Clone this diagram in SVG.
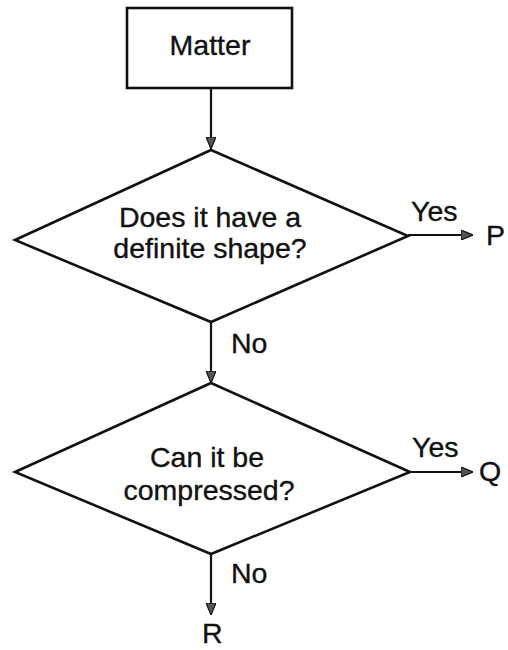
<svg xmlns="http://www.w3.org/2000/svg" width="508" height="650" viewBox="0 0 508 650">
<defs>
<style>
.shape{fill:none;stroke:#111;stroke-width:2.6;stroke-linejoin:miter}
.conn{fill:none;stroke:#111;stroke-width:2.2}
.t{font-family:"Liberation Sans",Arial,sans-serif;font-size:28.5px;fill:#111;stroke:#111;stroke-width:0.35}
.c{text-anchor:middle}
</style>
<marker id="arr" viewBox="0 0 12 10" refX="11" refY="5" markerWidth="12" markerHeight="10" markerUnits="userSpaceOnUse" orient="auto">
<path d="M0,0 L12,5 L0,10 Z" fill="#555" stroke="#111" stroke-width="1.2"/>
</marker>
</defs>
<rect width="508" height="650" fill="#fff"/>
<g id="matter">
<rect class="shape" x="127" y="8" width="165" height="80"/>
<text class="t c" x="210" y="55">Matter</text>
</g>
<g id="q1">
<polygon class="shape" points="211,150 408,236 211,322 15,240"/>
<text class="t c" x="210" y="227">Does it have a</text>
<text class="t c" x="210" y="258">definite shape?</text>
</g>
<g id="q2">
<polygon class="shape" points="211,383 410,472 211,554 15,472"/>
<text class="t c" x="207" y="467">Can it be</text>
<text class="t c" x="209" y="500">compressed?</text>
</g>
<g id="P"><text class="t" x="486" y="245">P</text></g>
<g id="Q"><text class="t" x="479" y="481">Q</text></g>
<g id="R"><text class="t" x="202" y="643">R</text></g>
<g id="connectors">
<line class="conn" x1="211" y1="88" x2="211" y2="148" marker-end="url(#arr)"/>
<line class="conn" x1="408" y1="235" x2="472" y2="235" marker-end="url(#arr)"/>
<text class="t" x="411" y="221">Yes</text>
<line class="conn" x1="211" y1="322" x2="211" y2="382" marker-end="url(#arr)"/>
<text class="t" x="231" y="353">No</text>
<line class="conn" x1="410" y1="472" x2="472" y2="472" marker-end="url(#arr)"/>
<text class="t" x="412" y="457">Yes</text>
<line class="conn" x1="211" y1="554" x2="211" y2="614" marker-end="url(#arr)"/>
<text class="t" x="231" y="583">No</text>
</g>
</svg>
